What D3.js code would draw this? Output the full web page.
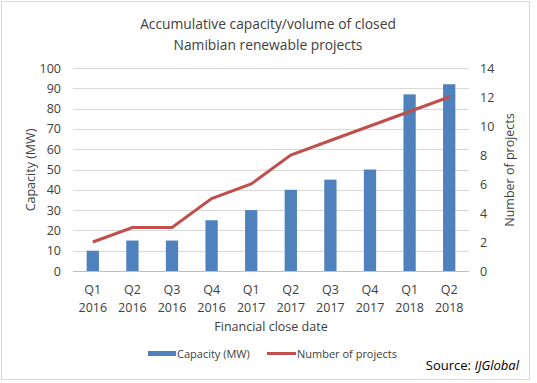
<!DOCTYPE html>
<html>
<head>
<meta charset="utf-8">
<script src="https://cdn.jsdelivr.net/npm/d3@7"></script>
<style>
body { margin: 0; background: #fff; }
text { font-family: "Open Sans", "Noto Sans", sans-serif; fill: #404040; }
</style>
</head>
<body>
<svg id="chart" width="537" height="383"></svg>
<script>
// chart data
var quarters = ['Q1', 'Q2', 'Q3', 'Q4', 'Q1', 'Q2', 'Q3', 'Q4', 'Q1', 'Q2'];
var years = ['2016', '2016', '2016', '2016', '2017', '2017', '2017', '2017', '2018', '2018'];
var capacity = [10, 15, 15, 25, 30, 40, 45, 50, 87, 92];
var projects = [2, 3, 3, 5, 6, 8, 9, 10, 11, 12];
var leftTicks = [0, 10, 20, 30, 40, 50, 60, 70, 80, 90, 100];
var rightTicks = [0, 2, 4, 6, 8, 10, 12, 14];

var svg = d3.select('#chart');
// plot box (window.top is reserved, so use other names)
var plotL = 73, plotR = 469, plotT = 68, plotB = 271;

svg.append('rect').attr('x', 1.5).attr('y', 1.5).attr('width', 528).attr('height', 378)
    .attr('fill', '#fff').attr('stroke', '#d9d9d9');

var x = d3.scaleBand().domain(d3.range(capacity.length)).range([plotL, plotR]).paddingInner(0.69).paddingOuter(0.345);
var yL = d3.scaleLinear().domain([0, 100]).range([plotB, plotT]);
var yR = d3.scaleLinear().domain([0, 14]).range([plotB, plotT]);

// gridlines
svg.append('g').selectAll('line').data(leftTicks).enter().append('line')
    .attr('x1', plotL).attr('x2', plotR)
    .attr('y1', function(d) { return Math.round(yL(d)) + 0.5; })
    .attr('y2', function(d) { return Math.round(yL(d)) + 0.5; })
    .attr('stroke', function(d) { return d === 0 ? '#bfbfbf' : '#d9d9d9'; });

// axes
var axL = svg.append('g').attr('transform', 'translate(' + (plotL - 12) + ',0)')
    .call(d3.axisLeft(yL).tickValues(leftTicks).tickSize(0).tickPadding(0));
var axR = svg.append('g').attr('transform', 'translate(' + (plotR + 11) + ',0)')
    .call(d3.axisRight(yR).tickValues(rightTicks).tickSize(0).tickPadding(0));
[axL, axR].forEach(function(a) {
    a.select('.domain').remove();
    a.attr('font-family', null);
    a.selectAll('text').style('font-size', '12.5px').attr('fill', '#404040');
});

// bars
svg.append('g').selectAll('rect').data(capacity).enter().append('rect')
    .attr('x', function(d, i) { return x(i); })
    .attr('width', x.bandwidth())
    .attr('y', function(d) { return yL(d); })
    .attr('height', function(d) { return plotB - yL(d); })
    .attr('fill', '#4f81bd');

// line
var line = d3.line()
    .x(function(d, i) { return x(i) + x.bandwidth() / 2; })
    .y(function(d) { return yR(d); });
svg.append('path').datum(projects).attr('d', line)
    .attr('fill', 'none').attr('stroke', '#c0504d').attr('stroke-width', 3);

// category labels
var cats = svg.append('g').selectAll('text').data(quarters).enter().append('text')
    .attr('text-anchor', 'middle').style('font-size', '12.5px')
    .attr('x', function(d, i) { return x(i) + x.bandwidth() / 2; });
cats.append('tspan').attr('y', 294).text(function(d) { return d; });
cats.append('tspan').attr('y', 312)
    .attr('x', function(d, i) { return x(i) + x.bandwidth() / 2; })
    .text(function(d, i) { return years[i]; });

// titles
svg.append('text').attr('x', 268).attr('y', 29).attr('text-anchor', 'middle')
    .style('font-size', '13.8px').text('Accumulative capacity/volume of closed');
svg.append('text').attr('x', 268).attr('y', 50).attr('text-anchor', 'middle')
    .style('font-size', '13.8px').text('Namibian renewable projects');
svg.append('text').attr('x', 271).attr('y', 331).attr('text-anchor', 'middle')
    .style('font-size', '12.5px').text('Financial close date');
svg.append('text').attr('transform', 'translate(35,170) rotate(-90)').attr('text-anchor', 'middle')
    .style('font-size', '12.5px').text('Capacity (MW)');
svg.append('text').attr('transform', 'translate(514,170) rotate(-90)').attr('text-anchor', 'middle')
    .style('font-size', '12.5px').text('Number of projects');

// legend
var lg = svg.append('g');
lg.append('rect').attr('x', 148).attr('y', 351).attr('width', 28).attr('height', 5).attr('fill', '#4f81bd');
lg.append('text').attr('x', 177).attr('y', 358).style('font-size', '11px').text('Capacity (MW)');
lg.append('line').attr('x1', 267).attr('x2', 296).attr('y1', 353.5).attr('y2', 353.5)
    .attr('stroke', '#c0504d').attr('stroke-width', 3);
lg.append('text').attr('x', 297).attr('y', 358).style('font-size', '11px').text('Number of projects');

var src = svg.append('text').attr('x', 519).attr('y', 370).attr('text-anchor', 'end')
    .style('font-size', '13px').style('fill', '#000');
src.append('tspan').text('Source: ');
src.append('tspan').style('font-style', 'italic').text('IJGlobal');
</script>
</body>
</html>
